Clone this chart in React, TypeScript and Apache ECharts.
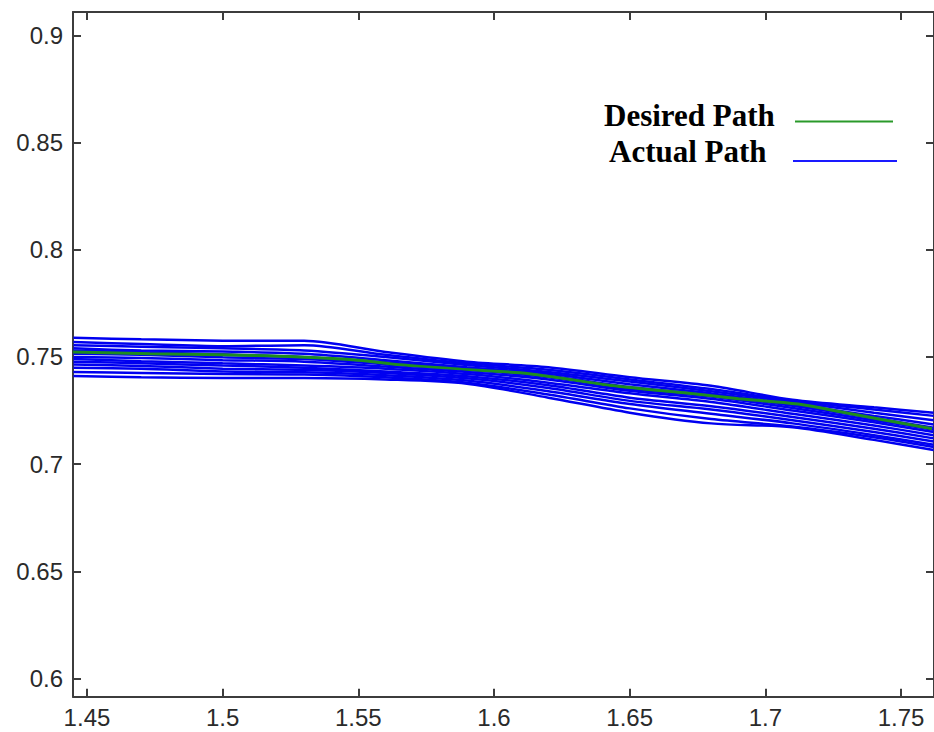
import React, { useEffect, useRef } from "react";
import * as echarts from "echarts";

// x positions (shared by the actual-path trials)
const trialX = [1.445, 1.47, 1.5, 1.53, 1.56, 1.59, 1.62, 1.65, 1.68, 1.71, 1.74, 1.762];

// Actual path trials (y values at trialX)
const actual1 = [0.7589, 0.7582, 0.7576, 0.7575, 0.7523, 0.7478, 0.7452, 0.7405, 0.7365, 0.73, 0.7265, 0.724];
const actual2 = [0.757, 0.756, 0.755, 0.7555, 0.751, 0.747, 0.744, 0.7395, 0.735, 0.7295, 0.7255, 0.7225];
const actual3 = [0.7555, 0.7548, 0.754, 0.753, 0.75, 0.7462, 0.743, 0.7385, 0.734, 0.729, 0.724, 0.7205];
const actual4 = [0.754, 0.753, 0.7525, 0.7515, 0.7485, 0.7452, 0.7422, 0.7372, 0.733, 0.728, 0.7225, 0.7185];
const actual5 = [0.753, 0.7522, 0.7512, 0.75, 0.7475, 0.7445, 0.7412, 0.736, 0.7322, 0.7272, 0.7215, 0.717];
const actual6 = [0.7515, 0.751, 0.7498, 0.749, 0.7465, 0.744, 0.7405, 0.735, 0.7315, 0.7262, 0.7205, 0.716];
const actual7 = [0.75, 0.7495, 0.7485, 0.7478, 0.7455, 0.743, 0.7395, 0.7342, 0.7305, 0.725, 0.7195, 0.715];
const actual8 = [0.749, 0.748, 0.747, 0.746, 0.7445, 0.742, 0.738, 0.733, 0.729, 0.7235, 0.718, 0.7135];
const actual9 = [0.7478, 0.747, 0.746, 0.745, 0.7432, 0.741, 0.7368, 0.731, 0.727, 0.722, 0.7165, 0.712];
const actual10 = [0.7465, 0.7458, 0.7445, 0.744, 0.7425, 0.74, 0.7355, 0.7295, 0.7255, 0.7205, 0.715, 0.7105];
const actual11 = [0.745, 0.7445, 0.7432, 0.7428, 0.7415, 0.739, 0.734, 0.728, 0.7235, 0.719, 0.7135, 0.709];
const actual12 = [0.743, 0.7425, 0.742, 0.7418, 0.7405, 0.738, 0.7325, 0.726, 0.721, 0.7175, 0.7125, 0.708];
const actual13 = [0.7411, 0.7405, 0.7402, 0.7402, 0.7395, 0.7375, 0.731, 0.724, 0.719, 0.7172, 0.7113, 0.7066];

const actualTrials = [
  actual1, actual2, actual3, actual4, actual5, actual6, actual7,
  actual8, actual9, actual10, actual11, actual12, actual13,
];

// Desired path
const desiredX = [1.4449, 1.4732, 1.5, 1.5283, 1.55, 1.5651, 1.5908, 1.6129, 1.6441, 1.6717, 1.6901, 1.7121, 1.7305, 1.7614];
const desiredY = [0.7523, 0.7515, 0.751, 0.75, 0.7485, 0.7463, 0.744, 0.7422, 0.7365, 0.733, 0.7305, 0.728, 0.7237, 0.7165];

// Axis extents
const xMin = 1.44485;
const xMax = 1.76213;
const yMin = 0.5915;
const yMax = 0.9109;

const legendLabels = ["Desired Path", "Actual Path"];

const BLUE = "#0000f0";
const GREEN = "#1e8c1e";
const AXIS = "#3c3c3c";

export default function App() {
  const ref = useRef<HTMLDivElement>(null);

  useEffect(() => {
    if (!ref.current) return;
    const chart = echarts.init(ref.current, null, { renderer: "svg" });

    const pairs = (xs: number[], ys: number[]) => xs.map((x, i) => [x, ys[i]]);

    const blueSeries = actualTrials.map((ys, i) => ({
      name: "Actual Path " + (i + 1),
      type: "line",
      data: pairs(trialX, ys),
      showSymbol: false,
      symbol: "none",
      smooth: 0.3,
      lineStyle: { color: BLUE, width: 2.5 },
      z: 2,
    }));

    const greenSeries = {
      name: "Desired Path",
      type: "line",
      data: pairs(desiredX, desiredY),
      symbol: "none",
      smooth: 0.3,
      lineStyle: { color: GREEN, width: 3 },
      z: 2,
    };

    const series = [
      ...blueSeries.slice(0, 6),
      greenSeries,
      ...blueSeries.slice(6),
    ];

    const labelFont = {
      fontFamily: "'Liberation Sans', Arial, sans-serif",
      fontSize: 24,
      color: "#2a2a2a",
    };

    const axisCommon = {
      type: "value",
      scale: true,
      splitLine: { show: false },
      axisLine: { show: true, lineStyle: { color: AXIS, width: 2 } },
      axisTick: { show: true, inside: true, length: 8, lineStyle: { color: AXIS, width: 2 } },
    };

    chart.setOption({
      animation: false,
      backgroundColor: "#ffffff",
      grid: { left: 73, top: 12, width: 863, height: 684.7, containLabel: false },
      xAxis: [
        {
          ...axisCommon,
          position: "bottom",
          min: xMin,
          max: xMax,
          axisLabel: { ...labelFont, margin: 9, showMinLabel: false, showMaxLabel: false },
        },
        {
          ...axisCommon,
          position: "top",
          min: xMin,
          max: xMax,
          axisLabel: { show: false },
        },
      ],
      yAxis: [
        {
          ...axisCommon,
          position: "left",
          min: yMin,
          max: yMax,
          axisLabel: { ...labelFont, margin: 10, showMinLabel: false, showMaxLabel: false },
        },
        {
          ...axisCommon,
          position: "right",
          min: yMin,
          max: yMax,
          axisLabel: { show: false },
        },
      ],
      series,
      graphic: [
        {
          type: "text",
          left: 604,
          top: 100,
          style: {
            text: legendLabels[0],
            font: "bold 31px 'Liberation Serif', 'Times New Roman', serif",
            fill: "#000000",
          },
          z: 10,
        },
        {
          type: "line",
          shape: { x1: 795, y1: 121.5, x2: 893, y2: 121.5 },
          style: { stroke: "#2a9a2a", lineWidth: 2 },
          z: 10,
        },
        {
          type: "text",
          left: 609,
          top: 136,
          style: {
            text: legendLabels[1],
            font: "bold 31px 'Liberation Serif', 'Times New Roman', serif",
            fill: "#000000",
          },
          z: 10,
        },
        {
          type: "line",
          shape: { x1: 793, y1: 161, x2: 897, y2: 161 },
          style: { stroke: "#1a1aff", lineWidth: 2 },
          z: 10,
        },
      ],
    });

    return () => chart.dispose();
  }, []);

  return (
    <div
      ref={ref}
      style={{ position: "fixed", left: 0, top: 0, width: 934, height: 732, background: "#fff" }}
    />
  );
}
